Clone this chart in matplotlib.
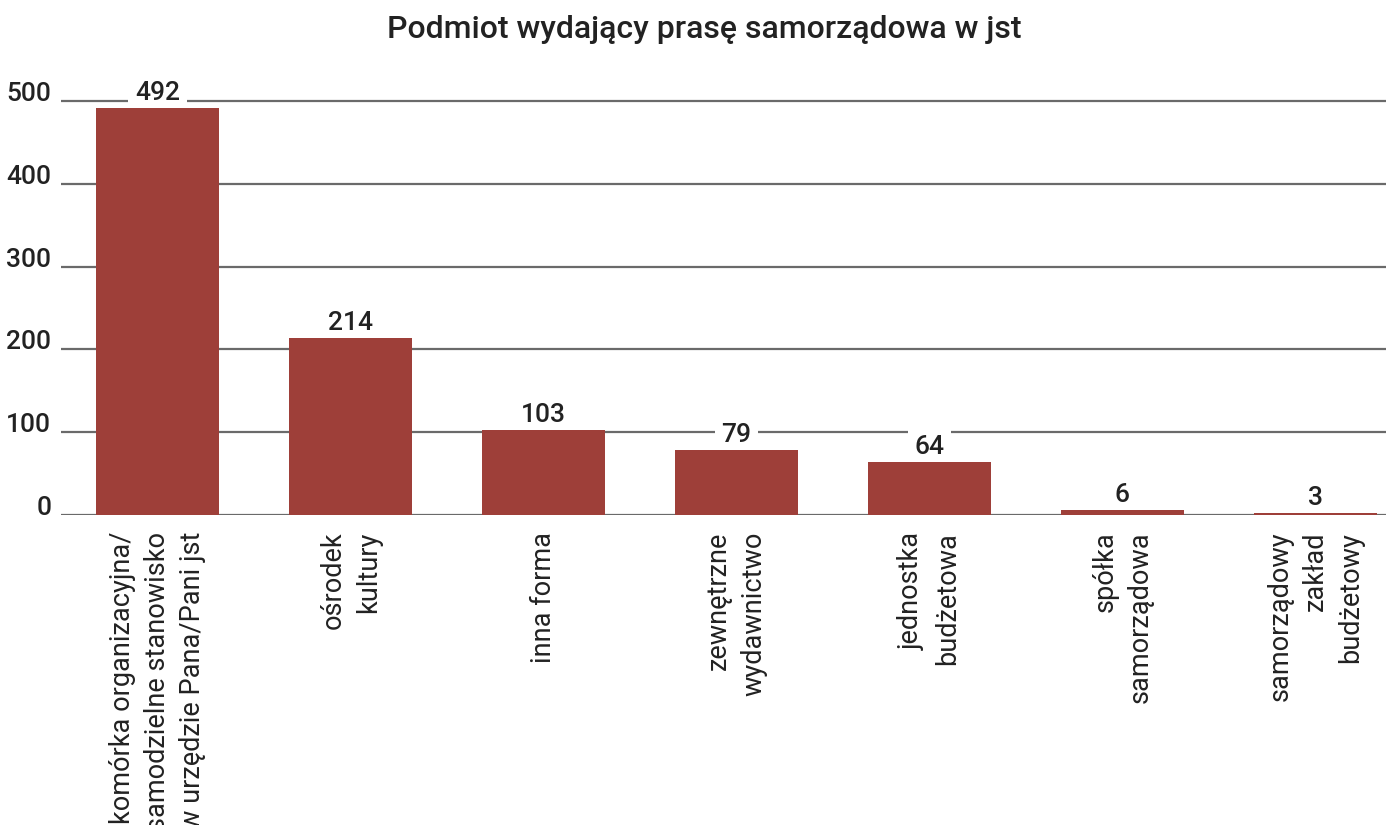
import matplotlib.pyplot as plt

plt.rcParams['font.family'] = ['Roboto', 'DejaVu Sans']

categories = ["komórka organizacyjna/\nsamodzielne stanowisko\nw urzędzie Pana/Pani jst",
              "ośrodek\nkultury",
              "inna forma",
              "zewnętrzne\nwydawnictwo",
              "jednostka\nbudżetowa",
              "spółka\nsamorządowa",
              "samorządowy\nzakład\nbudżetowy"]
values = [492, 214, 103, 79, 64, 6, 3]
yticks = [0, 100, 200, 300, 400, 500]

BAR = "#9e3f39"
GRID = "#6a6a6a"
TXT = "#222222"

fig = plt.figure(figsize=(13.86, 8.25), dpi=100)
# axes reaches a bit past the right edge, like the original
ax = fig.add_axes([61/1386, (825-515)/825, 1351/1386, (515-84.4)/825])

x = list(range(len(values)))
ax.bar(x, values, width=0.64, color=BAR, zorder=3)
ax.set_xlim(-0.5, 6.5)
ax.set_ylim(0, 520)

ax.set_yticks(yticks)
ax.set_yticklabels([str(t) for t in yticks], fontsize=19, fontweight='medium', color=TXT)
for lab in ax.get_yticklabels():
    lab.set_va('baseline')
ax.tick_params(axis='y', length=0, pad=7)
ax.yaxis.grid(True, color=GRID, linewidth=1.6)
ax.set_axisbelow(True)

ax.set_xticks(x)
ax.set_xticklabels(categories, rotation=90, ha='center', va='top', multialignment='right',
                   fontsize=19.5, color=TXT, linespacing=1.4)
ax.tick_params(axis='x', length=0, pad=12)

for s in ax.spines.values():
    s.set_visible(False)

for i, v in enumerate(values):
    ax.annotate(str(v), (i, v), xytext=(0, 2), textcoords='offset points', ha='center', va='bottom',
                fontsize=19, fontweight='medium', color=TXT, zorder=2.5,
                bbox=dict(facecolor='white', edgecolor='none', pad=5))

fig.text(704/1386, 1 - 29/825, "Podmiot wydający prasę samorządowa w jst", ha='center', va='center',
         fontsize=23, fontweight='medium', color=TXT)

fig.savefig("out.png", dpi=100)
